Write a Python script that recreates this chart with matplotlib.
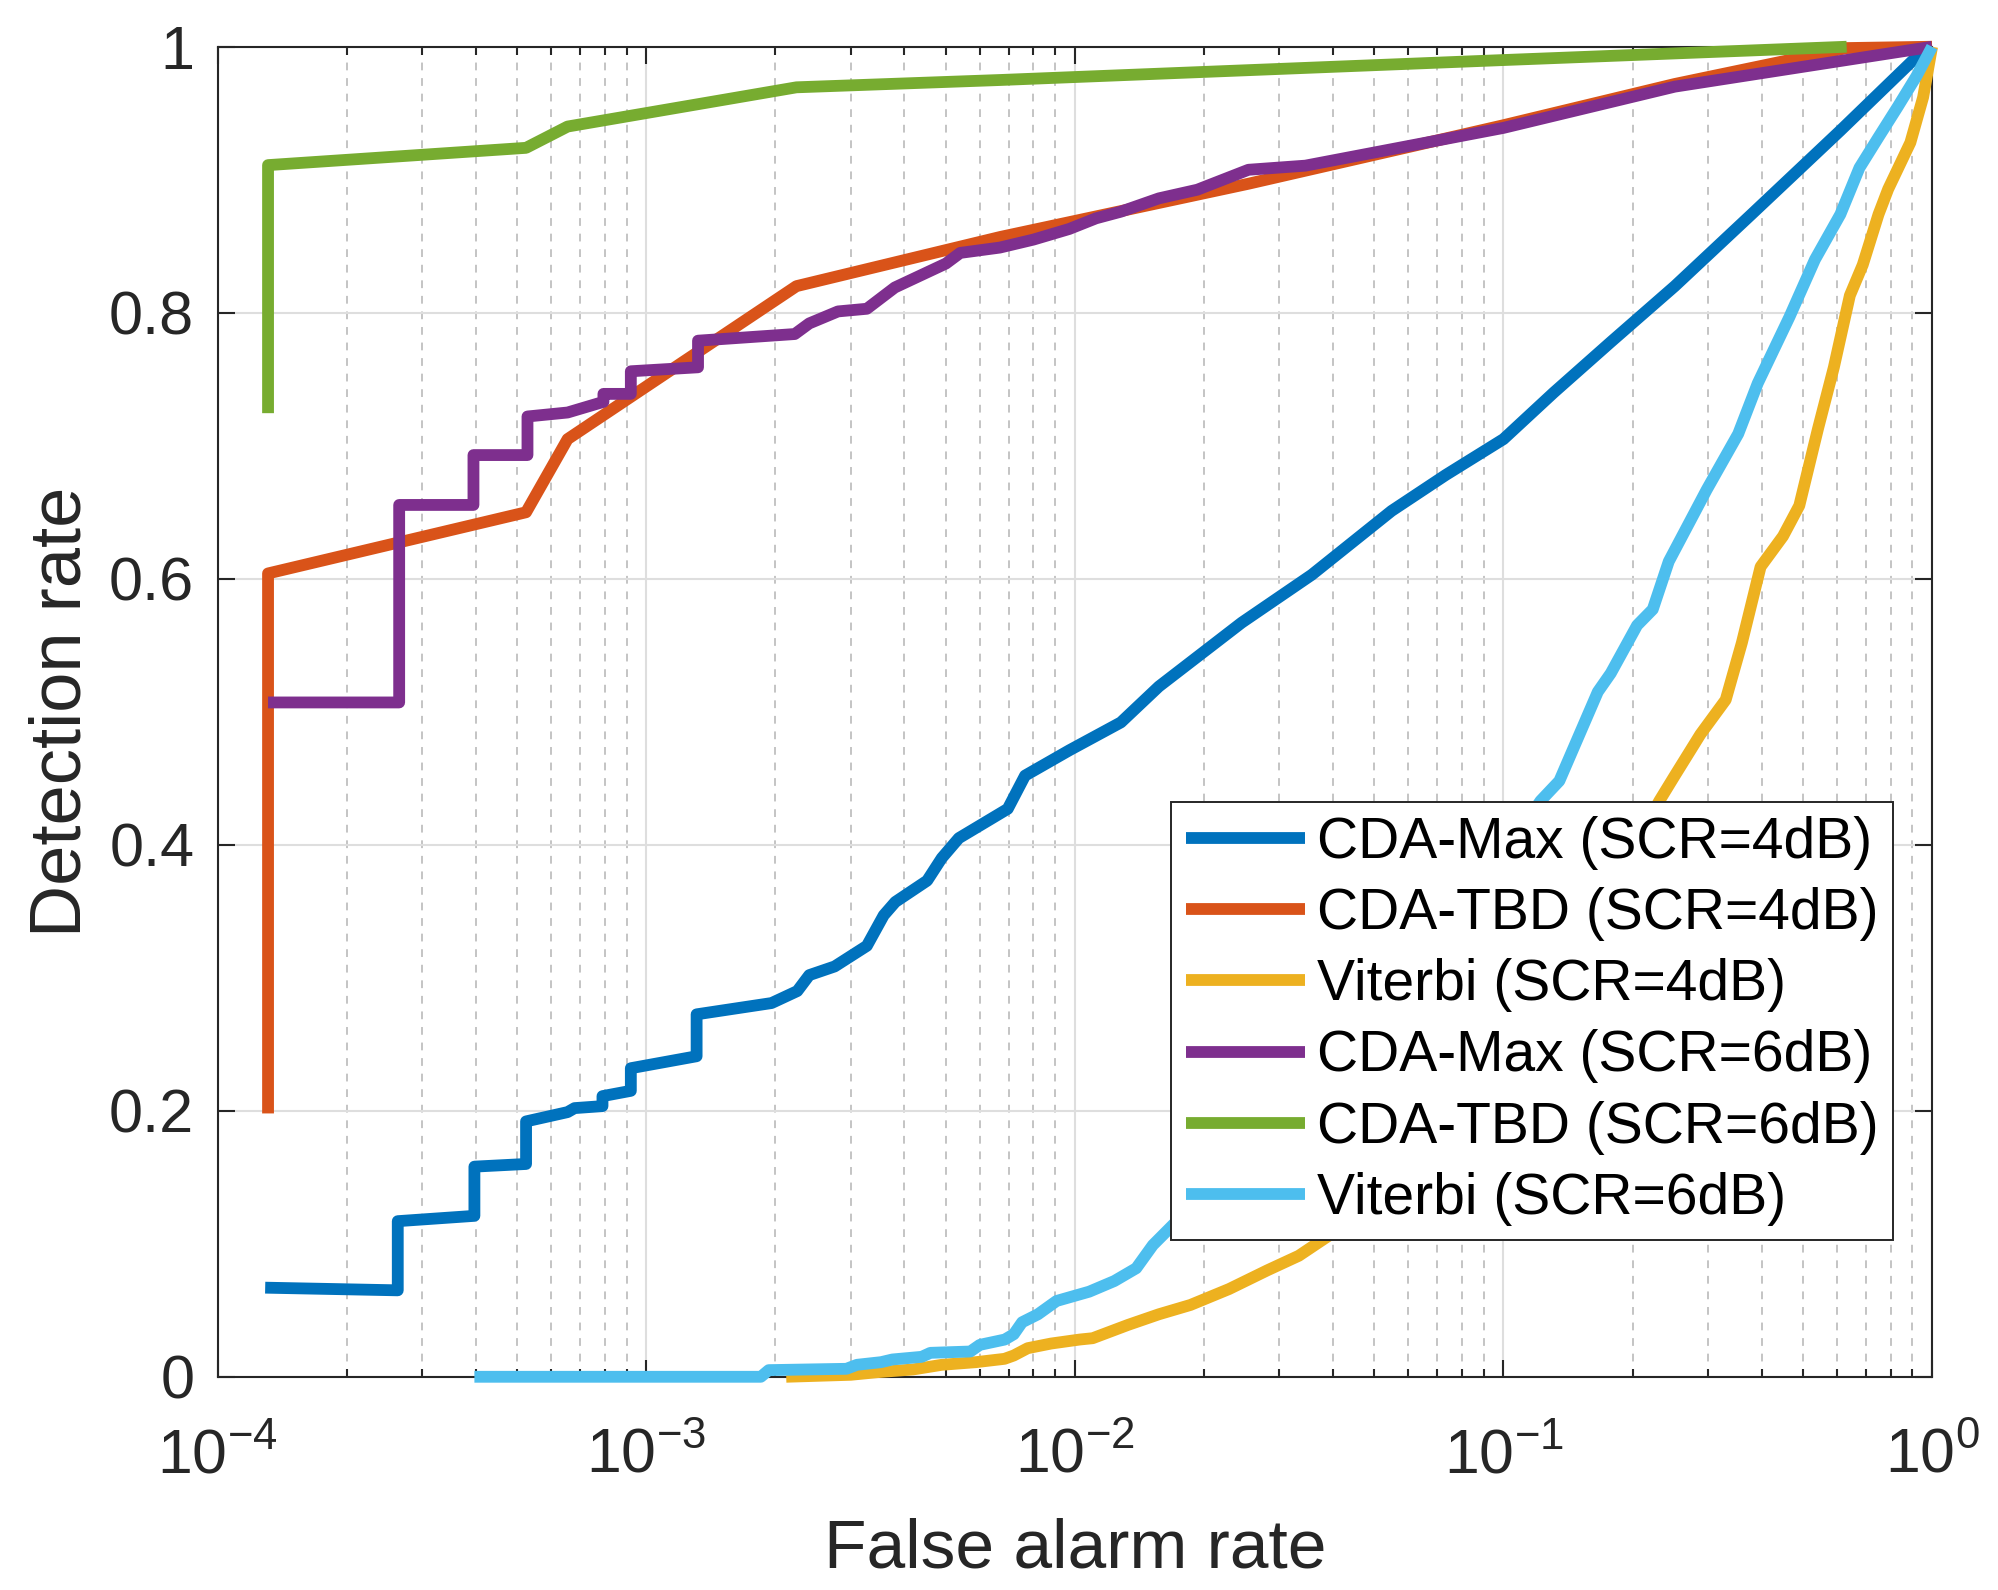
import math
import matplotlib
matplotlib.use("Agg")
import matplotlib.pyplot as plt
from matplotlib.ticker import LogLocator, FixedLocator, FuncFormatter, NullFormatter

plt.rcParams['font.family'] = ['Liberation Sans', 'DejaVu Sans']
plt.rcParams['mathtext.fontset'] = 'custom'
plt.rcParams['mathtext.rm'] = 'Liberation Sans'
plt.rcParams['mathtext.default'] = 'regular'

# --- data ---
max4_x = [1.29e-4, 2.63e-4, 2.63e-4, 3.97e-4, 3.97e-4, 5.24e-4, 5.24e-4, 6.55e-4, 6.8e-4,
          7.9e-4, 7.9e-4, 9.2e-4, 9.2e-4, 1.31e-3, 1.31e-3, 1.96e-3, 2.25e-3, 2.4e-3,
          2.75e-3, 3.27e-3, 3.58e-3, 3.81e-3, 4.52e-3, 4.89e-3, 5.36e-3, 6.97e-3, 7.65e-3,
          9.7e-3, 0.0128, 0.0157, 0.0245, 0.0357, 0.0548, 0.0733, 0.1, 0.131, 0.178, 0.251,
          0.379, 0.611, 0.938, 1.0]
max4_y = [0.067, 0.065, 0.117, 0.121, 0.158, 0.160, 0.192, 0.199, 0.202,
          0.2035, 0.211, 0.215, 0.232, 0.241, 0.2725, 0.281, 0.290, 0.302,
          0.3085, 0.324, 0.347, 0.357, 0.373, 0.390, 0.405, 0.427, 0.452,
          0.471, 0.492, 0.519, 0.567, 0.603, 0.651, 0.678, 0.705, 0.740, 0.778, 0.820,
          0.874, 0.937, 0.995, 1.0]

tbd4_x = [1.31e-4, 1.31e-4, 5.24e-4, 6.55e-4, 2.24e-3, 6.7e-3, 0.0254, 0.1, 0.251, 0.632, 1.0]
tbd4_y = [0.198, 0.604, 0.650, 0.705, 0.820, 0.857, 0.897, 0.941, 0.972, 0.999, 1.0]

vit4_x = [2.12e-3, 3.0e-3, 3.47e-3, 4.19e-3, 4.89e-3, 5.88e-3, 6.85e-3, 7.2e-3, 7.76e-3,
          8.8e-3, 0.01026, 0.011, 0.0133, 0.0157, 0.0186, 0.0229, 0.0281, 0.0333, 0.0395,
          0.05, 0.07, 0.1, 0.14, 0.18, 0.231, 0.251, 0.288, 0.33, 0.36, 0.398, 0.449,
          0.49, 0.542, 0.590, 0.643, 0.689, 0.75, 0.79, 0.89, 0.953, 1.0]
vit4_y = [0.0, 0.0015, 0.0035, 0.0055, 0.009, 0.011, 0.0135, 0.016, 0.0215,
          0.025, 0.028, 0.029, 0.039, 0.047, 0.054, 0.066, 0.080, 0.091, 0.107,
          0.135, 0.18, 0.24, 0.31, 0.37, 0.433, 0.452, 0.483, 0.509, 0.552, 0.609, 0.632,
          0.655, 0.713, 0.759, 0.813, 0.836, 0.874, 0.893, 0.928, 0.962, 1.0]

max6_x = [1.31e-4, 2.65e-4, 2.65e-4, 3.95e-4, 3.95e-4, 5.28e-4, 5.28e-4, 6.55e-4, 7.94e-4,
          7.94e-4, 9.2e-4, 9.2e-4, 1.32e-3, 1.32e-3, 2.22e-3, 2.4e-3, 2.8e-3, 3.27e-3,
          3.8e-3, 5.0e-3, 5.4e-3, 6.68e-3, 8.0e-3, 9.7e-3, 0.0112, 0.0128, 0.0157, 0.0193,
          0.0254, 0.0345, 0.1, 0.251, 1.0]
max6_y = [0.507, 0.507, 0.6555, 0.6555, 0.693, 0.693, 0.722, 0.725, 0.733,
          0.739, 0.739, 0.756, 0.759, 0.779, 0.784, 0.792, 0.801, 0.803,
          0.819, 0.837, 0.845, 0.849, 0.855, 0.863, 0.871, 0.876, 0.886, 0.8925,
          0.9075, 0.9106, 0.939, 0.970, 1.0]

tbd6_x = [1.31e-4, 1.31e-4, 5.24e-4, 6.55e-4, 2.24e-3, 6.7e-3, 0.1, 0.632]
tbd6_y = [0.7245, 0.911, 0.924, 0.940, 0.9695, 0.975, 0.990, 1.0]

vit6_x = [3.97e-4, 1.85e-3, 1.93e-3, 2.93e-3, 3.1e-3, 3.53e-3, 3.75e-3, 4.39e-3, 4.6e-3,
          5.7e-3, 6.0e-3, 6.86e-3, 7.2e-3, 7.53e-3, 8.2e-3, 9.06e-3, 0.0108, 0.01236,
          0.0139, 0.0152, 0.0174, 0.022, 0.03, 0.045, 0.065, 0.09, 0.122, 0.135, 0.166,
          0.178, 0.205, 0.223, 0.243, 0.298, 0.353, 0.392, 0.465, 0.533, 0.611, 0.677,
          0.75, 0.832, 0.92, 1.0]
vit6_y = [0.0, 0.0, 0.005, 0.006, 0.009, 0.011, 0.013, 0.015, 0.018,
          0.019, 0.024, 0.028, 0.032, 0.041, 0.047, 0.057, 0.064, 0.072,
          0.0816, 0.099, 0.118, 0.14, 0.18, 0.24, 0.30, 0.37, 0.433, 0.448, 0.515,
          0.529, 0.565, 0.577, 0.613, 0.667, 0.709, 0.747, 0.797, 0.840, 0.874, 0.909,
          0.932, 0.955, 0.978, 1.0]

labels = ['CDA-Max (SCR=4dB)', 'CDA-TBD (SCR=4dB)', 'Viterbi (SCR=4dB)',
          'CDA-Max (SCR=6dB)', 'CDA-TBD (SCR=6dB)', 'Viterbi (SCR=6dB)']
colors = ['#0072BD', '#D95319', '#EDB120', '#7E2F8E', '#77AC30', '#4DBEEE']
series = [(max4_x, max4_y), (tbd4_x, tbd4_y), (vit4_x, vit4_y),
          (max6_x, max6_y), (tbd6_x, tbd6_y), (vit6_x, vit6_y)]

fig = plt.figure(figsize=(19.98, 15.9), dpi=100)
ax = fig.add_axes([0.109, 0.1341, 0.858, 0.8365])

for (xs, ys), c, lab in zip(series, colors, labels):
    ax.plot(xs, ys, color=c, lw=8.5, label=lab, solid_joinstyle='round',
            solid_capstyle='butt', clip_on=False, zorder=3)

ax.set_xscale('log')
ax.set_xlim(1e-4, 1)
ax.set_ylim(0, 1)

ax.xaxis.set_major_locator(FixedLocator([1e-4, 1e-3, 1e-2, 1e-1, 1]))
ax.xaxis.set_minor_locator(LogLocator(base=10, subs=range(2, 10), numticks=20))
ax.xaxis.set_major_formatter(FuncFormatter(lambda v, p: r'$10^{%d}$' % round(math.log10(v))))
ax.xaxis.set_minor_formatter(NullFormatter())
ax.set_yticks([0, 0.2, 0.4, 0.6, 0.8, 1])
ax.set_yticklabels(['0', '0.2', '0.4', '0.6', '0.8', '1'])

ax.grid(True, which='major', color='#dedede', lw=1.5, ls='-', zorder=0)
ax.grid(True, which='minor', axis='x', color='#c4c4c4', lw=1.4, ls=(0, (4, 4)), zorder=0)
ax.set_axisbelow(True)

tc = '#262626'
ax.tick_params(which='both', direction='in', top=True, right=True, color=tc, width=1.5)
ax.tick_params(which='major', length=12.5)
ax.tick_params(which='minor', length=6)
ax.tick_params(axis='y', labelsize=44, pad=17, labelcolor=tc)
ax.tick_params(axis='x', labelsize=45, pad=36, labelcolor=tc)
for sp in ax.spines.values():
    sp.set_color(tc)
    sp.set_linewidth(1.5)

ax.set_xlabel('False alarm rate', fontsize=50, color=tc, labelpad=23)
ax.set_ylabel('Detection rate', fontsize=52, color=tc, labelpad=10)

leg = ax.legend(loc='upper right', bbox_to_anchor=(0.9475, 0.4956),
                bbox_transform=fig.transFigure, borderaxespad=0, fontsize=41,
                handlelength=2.09, handletextpad=0.22, labelspacing=0.3,
                borderpad=0.25, fancybox=False, framealpha=1, edgecolor=tc)
leg.get_frame().set_linewidth(1.4)

fig.savefig('out.png', dpi=100)
